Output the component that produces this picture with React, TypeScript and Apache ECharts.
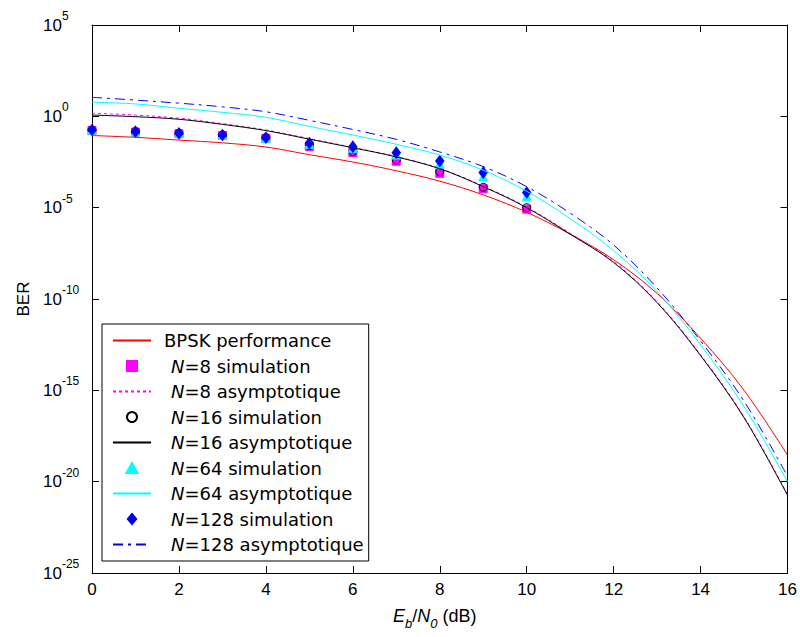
import React, { useEffect, useRef } from "react";
import * as echarts from "echarts";

// Eb/N0 axis (dB)
const ebn0 = [0, 1, 2, 3, 4, 5, 6, 7, 8, 9, 10, 11, 12, 13, 14, 15, 16];
const simEbn0 = [0, 1, 2, 3, 4, 5, 6, 7, 8, 9, 10];

// log10(BER) values
const bpskLog = [-1.05, -1.15, -1.3, -1.45, -1.68, -2.1, -2.5, -2.98, -3.55, -4.3, -5.25, -6.45, -7.85, -9.7, -12.15, -15.0, -18.55];
const n8AsymLog = [0.17, 0.07, -0.1, -0.4, -0.75, -1.22, -1.7, -2.2, -2.85, -3.82, -4.97, -6.4, -7.95, -10.15, -13.05, -16.45, -20.7];
const n16AsymLog = [0.07, -0.02, -0.16, -0.44, -0.78, -1.25, -1.72, -2.22, -2.87, -3.85, -5.0, -6.45, -8.0, -10.2, -13.1, -16.5, -20.75];
const n64AsymLog = [0.77, 0.68, 0.44, 0.22, -0.05, -0.55, -1.02, -1.53, -2.12, -2.95, -4.1, -5.6, -7.35, -9.6, -12.5, -15.9, -20.0];
const n128AsymLog = [1.04, 0.89, 0.72, 0.52, 0.25, -0.22, -0.72, -1.26, -1.95, -2.75, -3.85, -5.3, -7.05, -9.4, -12.3, -15.6, -19.7];

const n8SimLog = [-0.77, -0.86, -0.95, -1.05, -1.2, -1.66, -1.98, -2.46, -3.12, -3.96, -5.08];
const n16SimLog = [-0.75, -0.84, -0.93, -1.02, -1.17, -1.6, -1.93, -2.39, -3.03, -3.88, -5.0];
const n64SimLog = [-0.76, -0.85, -0.94, -1.04, -1.2, -1.52, -1.75, -2.12, -2.62, -3.32, -4.4];
const n128SimLog = [-0.75, -0.84, -0.93, -1.02, -1.17, -1.46, -1.66, -1.99, -2.45, -3.08, -4.17];

// axis ranges (log10 exponents on y)
const yMinExp = -25;
const yMaxExp = 5;
const yStep = 5;
const xMin = 0;
const xMax = 16;
const xStep = 2;

const seriesNames = [
  "BPSK performance",
  "N=8 simulation",
  "N=8 asymptotique",
  "N=16 simulation",
  "N=16 asymptotique",
  "N=64 simulation",
  "N=64 asymptotique",
  "N=128 simulation",
  "N=128 asymptotique",
];

const SQUARE = "path://M0,0L10,0L10,10L0,10Z";
const TRIANGLE = "path://M5,0L10,9L0,9Z";
const DIAMOND = "path://M5,0L10,6L5,12L0,6Z";

const FONT = "'Liberation Sans', Arial, sans-serif";
const LEGEND_FONT = "'DejaVu Sans', sans-serif";

const zip = (xs: number[], ys: number[]) => xs.map((x, i) => [x, ys[i]]);

function lineSeries(name: string, xs: number[], ys: number[], color: string, type: any) {
  return {
    name,
    type: "line",
    data: zip(xs, ys),
    symbol: "none",
    smooth: 0.35,
    lineStyle: { color, width: 1, type },
    itemStyle: { color },
    xAxisIndex: 0,
    yAxisIndex: 0,
  };
}

function scatterSeries(name: string, xs: number[], ys: number[], symbol: string, size: any, fill: string, border: string) {
  return {
    name,
    type: "scatter",
    data: zip(xs, ys),
    symbol,
    symbolSize: size,
    symbolKeepAspect: true,
    itemStyle: { color: fill, borderColor: border, borderWidth: 1, opacity: 1 },
    xAxisIndex: 0,
    yAxisIndex: 0,
  };
}

export default function App() {
  const ref = useRef<HTMLDivElement>(null);

  useEffect(() => {
    const chart = echarts.init(ref.current!, null, { renderer: "svg" });

    const axisLine = { show: true, onZero: false, lineStyle: { color: "#000", width: 1 } };
    const tick = { show: true, inside: true, length: 7, lineStyle: { color: "#000", width: 1 } };

    const legendData = seriesNames.map((name) =>
      name.includes("asymptotique") || name.startsWith("BPSK")
        ? { name, itemStyle: { opacity: 0 } }
        : { name }
    );

    const option: any = {
      animation: false,
      backgroundColor: "#fff",
      grid: { left: 92, right: 12, top: 25, bottom: 64, containLabel: false },
      xAxis: [
        {
          type: "value",
          position: "bottom",
          min: xMin,
          max: xMax,
          interval: xStep,
          axisLine,
          axisTick: tick,
          splitLine: { show: false },
          axisLabel: { margin: 8, fontSize: 17, fontFamily: FONT, color: "#000" },
          name: "{i|E}{sb|b}{n|/}{i|N}{sb|0}{n| (dB)}",
          nameLocation: "middle",
          nameGap: 30,
          nameTextStyle: {
            fontFamily: FONT,
            color: "#000",
            padding: [0, 10, 0, 0],
            rich: {
              i: { fontSize: 18, lineHeight: 18, fontStyle: "italic", fontFamily: FONT, color: "#000", verticalAlign: "middle" },
              n: { fontSize: 18, lineHeight: 18, fontFamily: FONT, color: "#000", verticalAlign: "middle" },
              sb: { fontSize: 13, lineHeight: 13, fontStyle: "italic", fontFamily: FONT, color: "#000", verticalAlign: "middle", padding: [14, 0, 0, 0] },
            },
          },
        },
        {
          type: "value",
          position: "top",
          min: xMin,
          max: xMax,
          interval: xStep,
          axisLine,
          axisTick: tick,
          axisLabel: { show: false },
          splitLine: { show: false },
        },
      ],
      yAxis: [
        {
          type: "value",
          position: "left",
          min: yMinExp,
          max: yMaxExp,
          interval: yStep,
          axisLine,
          axisTick: tick,
          splitLine: { show: false },
          axisLabel: {
            margin: 49,
            align: "left",
            formatter: (v: number) => `{b|10}{s|${v}}`,
            rich: {
              b: { fontSize: 17, lineHeight: 17, fontFamily: FONT, color: "#000", verticalAlign: "middle" },
              s: { fontSize: 12, lineHeight: 12, fontFamily: FONT, color: "#000", verticalAlign: "middle", padding: [0, 0, 18, 0] },
            },
          },
          name: "BER",
          nameLocation: "middle",
          nameGap: 57,
          nameTextStyle: { fontSize: 17, fontFamily: FONT, color: "#000" },
        },
        {
          type: "value",
          position: "right",
          min: yMinExp,
          max: yMaxExp,
          interval: yStep,
          axisLine,
          axisTick: tick,
          axisLabel: { show: false },
          splitLine: { show: false },
        },
      ],
      legend: {
        orient: "vertical",
        left: 102,
        top: 324,
        padding: [6.5, 5, 6.5, 10],
        itemGap: 5.5,
        itemWidth: 38,
        itemHeight: 10,
        symbolKeepAspect: true,
        backgroundColor: "#fff",
        borderColor: "#000",
        borderWidth: 1,
        borderRadius: 0,
        selectedMode: false,
        data: legendData,
        formatter: (name: string) => {
          if (name.startsWith("N")) return `{i|N}{t|${name.slice(1)}}`;
          return `{p|${name}}`;
        },
        textStyle: {
          fontSize: 18,
          lineHeight: 20,
          fontFamily: LEGEND_FONT,
          color: "#000",
          rich: {
            p: { fontSize: 18, lineHeight: 20, fontFamily: LEGEND_FONT, color: "#000", padding: [0, 0, 0, 8] },
            i: { fontSize: 18, lineHeight: 20, fontFamily: LEGEND_FONT, fontStyle: "italic", color: "#000", padding: [0, 0, 0, 15] },
            t: { fontSize: 18, lineHeight: 20, fontFamily: LEGEND_FONT, color: "#000" },
          },
        },
      },
      series: [
        lineSeries(seriesNames[0], ebn0, bpskLog, "#ff0000", "solid"),
        scatterSeries(seriesNames[1], simEbn0, n8SimLog, SQUARE, 8, "#ff00ff", "#ff00ff"),
        lineSeries(seriesNames[2], ebn0, n8AsymLog, "#ff00ff", [3, 3]),
        scatterSeries(seriesNames[3], simEbn0, n16SimLog, "circle", 8, "rgba(0,0,0,0)", "#000000"),
        lineSeries(seriesNames[4], ebn0, n16AsymLog, "#000000", "solid"),
        scatterSeries(seriesNames[5], simEbn0, n64SimLog, TRIANGLE, 9, "#00ffff", "#00ffff"),
        lineSeries(seriesNames[6], ebn0, n64AsymLog, "#00ffff", "solid"),
        scatterSeries(seriesNames[7], simEbn0, n128SimLog, DIAMOND, [10, 11], "#0000ff", "#0000ff"),
        lineSeries(seriesNames[8], ebn0, n128AsymLog, "#0000ff", [10, 5, 3, 5]),
      ],
    };

    chart.setOption(option);
    return () => chart.dispose();
  }, []);

  return (
    <div
      ref={ref}
      style={{ position: "fixed", left: 0, top: 0, width: 800, height: 637, background: "#fff" }}
    />
  );
}
